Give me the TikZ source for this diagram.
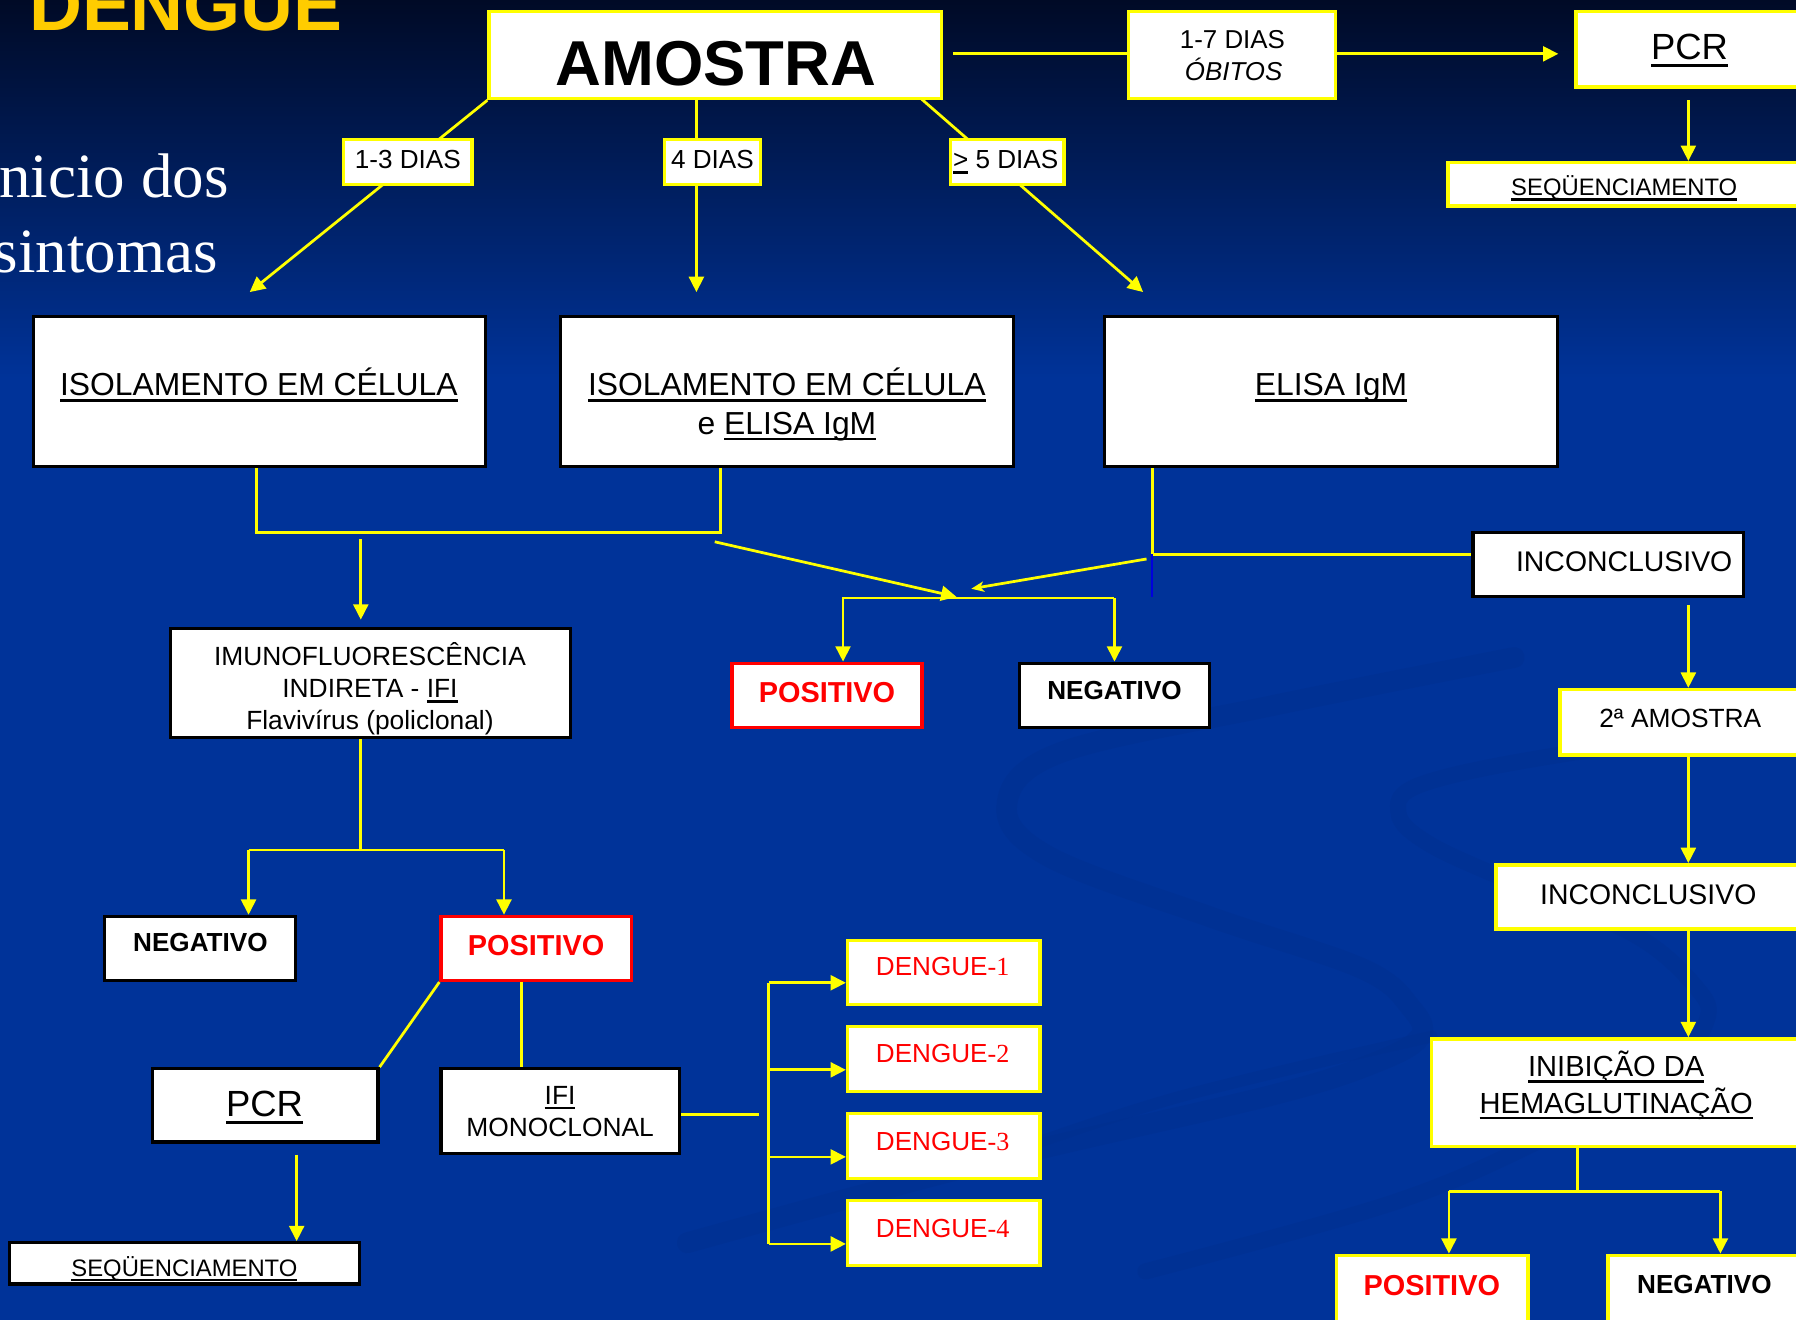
\documentclass[tikz,border=0pt]{standalone}
\usepackage{fontspec}
\setmainfont{Liberation Sans}
\newfontfamily\tnr{Liberation Serif}
\usetikzlibrary{arrows.meta,fit,calc}
\definecolor{yel}{HTML}{FFFF00}
\definecolor{bgtop}{HTML}{000A26}
\definecolor{bgblue}{HTML}{003399}
\definecolor{swirl}{HTML}{002F8E}
\definecolor{titley}{HTML}{FFCC00}
\definecolor{rd}{HTML}{FF0000}
\definecolor{blueline}{HTML}{0000DD}
\pgfdeclarelayer{back}
\pgfdeclarelayer{lines}
\pgfsetlayers{back,lines,main}
\newcommand\fsz[1]{\fontsize{#1}{#1}\selectfont}
\newcommand\myul[1]{\setbox0=\hbox{#1}\leavevmode\rlap{\rule[-0.2em]{\wd0}{0.09em}}\box0\relax}
\begin{document}
\begin{tikzpicture}[x=0.5pt,y=-0.5pt,
  ybox/.style={draw=yel,line width=1.5pt,fill=white,inner sep=0pt},
  kbox/.style={draw=black,line width=1.4pt,fill=white,inner sep=0pt},
  rbox/.style={draw=rd,line width=1.4pt,fill=white,inner sep=0pt},
  txt/.style={anchor=base,inner sep=0pt,text=black},
  conn/.style={draw=yel,line width=1.2pt},
  arr/.style={conn,-{Triangle[length=6.7pt,width=6.5pt]}},
  thinarr/.style={conn,-{Stealth[length=5.5pt,width=4.5pt,inset=1.5pt]}},
  swirlband/.style={draw=swirl,draw opacity=0.45,line cap=round,line join=round}]
\useasboundingbox (0,0) rectangle (1568,1152);
\begin{pgfonlayer}{back}
  \fill[bgblue] (0,0) rectangle (1568,1152);
  \shade[top color=bgtop,bottom color=bgblue] (0,0) rectangle (1568,330);
  \draw[swirlband,line width=9pt] plot[smooth,tension=0.6] coordinates {(1322,574) (1111,616) (926,657) (879,703) (916,748) (1058,801) (1190,846) (1232,880) (1240,905) (1200,928) (1111,956) (900,1005) (742,1046) (600,1085)};
  \draw[swirlband,line width=7pt] plot[smooth,tension=0.6] coordinates {(1600,628) (1374,657) (1243,684) (1221,710) (1248,737) (1322,771) (1427,816) (1480,861) (1490,891) (1453,937) (1348,994) (1216,1050) (1000,1110)};
  \draw[swirlband,line width=5pt] plot[smooth,tension=0.6] coordinates {(862,1013) (1028,958) (1250,905)};
\end{pgfonlayer}

% title and side text
\node[anchor=base west,inner sep=0pt,text=titley,font=\fsz{32pt}\bfseries] (title) at (25,27) {DENGUE};
\node[anchor=base west,inner sep=0pt,text=white,font=\tnr\fsz{27.5pt}] (side1) at (-1,172) {nicio dos};
\node[anchor=base west,inner sep=0pt,text=white,font=\tnr\fsz{27.5pt}] (side2) at (-6,238) {sintomas};

% boxes
\node[ybox,fit={(427,10) (822,86)}] (amostra) {};
\node[ybox,fit={(985,10) (1166,86)}] (obitos) {};
\node[ybox,fit={(1376,10) (1574,76)}] (pcrA) {};
\node[ybox,fit={(1264,142) (1574,180)}] (seqA) {};
\node[ybox,fit={(300,122) (412,161)}] (d13) {};
\node[ybox,fit={(580,122) (664,161)}] (d4) {};
\node[ybox,fit={(830,122) (929,161)}] (d5) {};
\node[kbox,fit={(29,276) (424,407)}] (iso1) {};
\node[kbox,fit={(489,276) (885,407)}] (iso2) {};
\node[kbox,fit={(964,276) (1360,407)}] (elisa) {};
\node[kbox,fit={(1286,465) (1522,521)}] (inc1) {};
\node[kbox,fit={(149,549) (498,644)}] (imuno) {};
\node[rbox,fit={(639,579) (805,635)}] (posM) {};
\node[kbox,fit={(890,579) (1056,635)}] (negM) {};
\node[ybox,fit={(1362,602) (1574,659)}] (amostra2) {};
\node[ybox,fit={(1306,755) (1574,811)}] (inc2) {};
\node[ybox,fit={(1250,907) (1574,1001)}] (ihg) {};
\node[ybox,fit={(1167,1096) (1334,1160)}] (posR) {};
\node[ybox,fit={(1404,1096) (1574,1160)}] (negR) {};
\node[kbox,fit={(91,800) (258,856)}] (negL) {};
\node[rbox,fit={(385,800) (551,856)}] (posL) {};
\node[kbox,fit={(133,933) (330,997)}] (pcrL) {};
\node[kbox,fit={(385,933) (593,1007)}] (ifi) {};
\node[kbox,fit={(8,1085) (314,1121)}] (seqL) {};
\node[ybox,fit={(740,821) (908,877)}] (den1) {};
\node[ybox,fit={(740,896) (908,953)}] (den2) {};
\node[ybox,fit={(740,972) (908,1029)}] (den3) {};
\node[ybox,fit={(740,1048) (908,1105)}] (den4) {};

% texts
\node[txt,font=\fsz{27.7pt}\bfseries] (tAmostra) at (625,75) {AMOSTRA};
\node[txt,font=\fsz{11.3pt}] (tOb1) at (1076,42) {1-7 DIAS};
\node[txt,font=\fsz{11.3pt}\itshape] (tOb2) at (1077,70) {ÓBITOS};
\node[txt,font=\fsz{15.9pt}] (tPcrA) at (1475,52) {\myul{PCR}};
\node[txt,font=\fsz{10.4pt}] (tSeqA) at (1418,171) {\myul{SEQÜENCIAMENTO}};
\node[txt,font=\fsz{11.4pt}] (t13) at (356,147) {1-3 DIAS};
\node[txt,font=\fsz{11.4pt}] (t4) at (622,147) {4 DIAS};
\node[txt,font=\fsz{11.4pt}] (t5) at (878,147) {\myul{>} 5 DIAS};
\node[txt,font=\fsz{13.9pt}] (tIso1) at (226,345) {\myul{ISOLAMENTO EM CÉLULA}};
\node[txt,font=\fsz{13.9pt}] (tIso2a) at (687,345) {\myul{ISOLAMENTO EM CÉLULA}};
\node[txt,font=\fsz{13.9pt}] (tIso2b) at (687,379) {e \myul{ELISA IgM}};
\node[txt,font=\fsz{13.9pt}] (tElisa) at (1162,345) {\myul{ELISA IgM}};
\node[txt,font=\fsz{12.4pt}] (tInc1) at (1418,499) {INCONCLUSIVO};
\node[txt,font=\fsz{11.5pt}] (tIm1) at (323,581) {IMUNOFLUORESCÊNCIA};
\node[txt,font=\fsz{11.5pt}] (tIm2) at (323,609) {INDIRETA - \myul{IFI}};
\node[txt,font=\fsz{11.5pt}] (tIm3) at (323,637) {Flavivírus (policlonal)};
\node[txt,font=\fsz{12.6pt}\bfseries,text=rd] (tPosM) at (722,613) {POSITIVO};
\node[txt,font=\fsz{11.4pt}\bfseries] (tNegM) at (973,611) {NEGATIVO};
\node[txt,font=\fsz{11.5pt}] (tAm2) at (1467,635) {2ª AMOSTRA};
\node[txt,font=\fsz{12.4pt}] (tInc2) at (1439,790) {INCONCLUSIVO};
\node[txt,font=\fsz{12.7pt}] (tIhg1) at (1411,940) {\myul{INIBIÇÃO DA}};
\node[txt,font=\fsz{12.7pt}] (tIhg2) at (1411,972) {\myul{HEMAGLUTINAÇÃO}};
\node[txt,font=\fsz{12.6pt}\bfseries,text=rd] (tPosR) at (1250,1131) {POSITIVO};
\node[txt,font=\fsz{11.4pt}\bfseries] (tNegR) at (1488,1129) {NEGATIVO};
\node[txt,font=\fsz{11.4pt}\bfseries] (tNegL) at (175,831) {NEGATIVO};
\node[txt,font=\fsz{12.6pt}\bfseries,text=rd] (tPosL) at (468,834) {POSITIVO};
\node[txt,font=\fsz{15.9pt}] (tPcrL) at (231,975) {\myul{PCR}};
\node[txt,font=\fsz{11.5pt}] (tIfi1) at (489,964) {\myul{IFI}};
\node[txt,font=\fsz{11.5pt}] (tIfi2) at (489,992) {MONOCLONAL};
\node[txt,font=\fsz{10.4pt}] (tSeqL) at (161,1114) {\myul{SEQÜENCIAMENTO}};
\node[txt,font=\fsz{11.4pt},text=rd] (tDen1) at (823,852) {DENGUE{\tnr -1}};
\node[txt,font=\fsz{11.4pt},text=rd] (tDen2) at (823,928) {DENGUE{\tnr -2}};
\node[txt,font=\fsz{11.4pt},text=rd] (tDen3) at (823,1004) {DENGUE{\tnr -3}};
\node[txt,font=\fsz{11.4pt},text=rd] (tDen4) at (823,1080) {DENGUE{\tnr -4}};

% free coordinates
\coordinate (a1) at (832,47);
\coordinate (tip13) at (218,255);
\coordinate (x4) at (608,255);
\coordinate (s5) at (804,86);
\coordinate (tip5) at (998,255);
\coordinate (j1) at (224,465);
\coordinate (j2) at (629,465);
\coordinate (im0) at (315,471);
\coordinate (im1) at (315,541);
\coordinate (dg0) at (624,473);
\coordinate (dg1) at (835,521);
\coordinate (e1) at (1006,484);
\coordinate (e2) at (1001,488);
\coordinate (e3) at (848,514);
\coordinate (e4) at (1006,521);
\coordinate (hL) at (736,522);
\coordinate (hR) at (973,522);
\coordinate (v0) at (1474,528);
\coordinate (b1) at (1377,1040);
\coordinate (bL) at (1265,1040);
\coordinate (bR) at (1502,1040);
\coordinate (m1) at (315,742);
\coordinate (mL) at (217,742);
\coordinate (mR) at (440,742);
\coordinate (p1) at (455,856);
\coordinate (q0) at (259,1008);
\coordinate (g1) at (663,973);
\coordinate (k1) at (671,858);
\coordinate (k2) at (671,934);
\coordinate (k3) at (671,1010);
\coordinate (k4) at (671,1086);

\begin{pgfonlayer}{lines}
  \draw[conn] (a1) -- (obitos.west |- a1);
  \draw[arr] (obitos.east |- a1) -- ([xshift=-7pt]pcrA.west |- a1);
  \draw[arr] ([yshift=-5pt]pcrA.south -| v0) -- (seqA.north -| v0);
  \draw[arr] (amostra.south west) -- (tip13);
  \draw[arr] (amostra.south -| x4) -- (x4);
  \draw[arr] (s5) -- (tip5);
  \draw[conn] (iso1.south -| j1) -- (j1) -- (j2) -- (iso2.south -| j2);
  \draw[arr] (im0) -- (im1);
  \draw[arr] (dg0) -- (dg1);
  \draw[conn] (elisa.south -| e1) -- (e1) -- (inc1.west |- e1);
  \draw[thinarr] (e2) -- (e3);
  \draw[blueline,line width=0.8pt] (e1) -- (e4);
  \draw[arr] (hR) -- (hL) -- (posM.north -| hL);
  \draw[arr] (hR) -- (negM.north -| hR);
  \draw[arr] (v0) -- (amostra2.north -| v0);
  \draw[arr] (amostra2.south -| v0) -- (inc2.north -| v0);
  \draw[arr] (inc2.south -| v0) -- (ihg.north -| v0);
  \draw[conn] (ihg.south -| b1) -- (b1);
  \draw[conn] (bL) -- (bR);
  \draw[arr] (bL) -- (posR.north -| bL);
  \draw[arr] (bR) -- (negR.north -| bR);
  \draw[conn] (imuno.south -| m1) -- (m1);
  \draw[conn] (mL) -- (mR);
  \draw[arr] (mL) -- (negL.north -| mL);
  \draw[arr] (mR) -- (posL.north -| mR);
  \draw[conn] (posL.south west) -- (pcrL.north east);
  \draw[conn] (p1) -- (ifi.north -| p1);
  \draw[arr] (q0) -- (seqL.north -| q0);
  \draw[conn] (ifi.east |- g1) -- (g1);
  \draw[conn] (k1) -- (k4);
  \draw[arr] (k1) -- (den1.west |- k1);
  \draw[arr] (k2) -- (den2.west |- k2);
  \draw[arr] (k3) -- (den3.west |- k3);
  \draw[arr] (k4) -- (den4.west |- k4);
\end{pgfonlayer}
\end{tikzpicture}
\end{document}
